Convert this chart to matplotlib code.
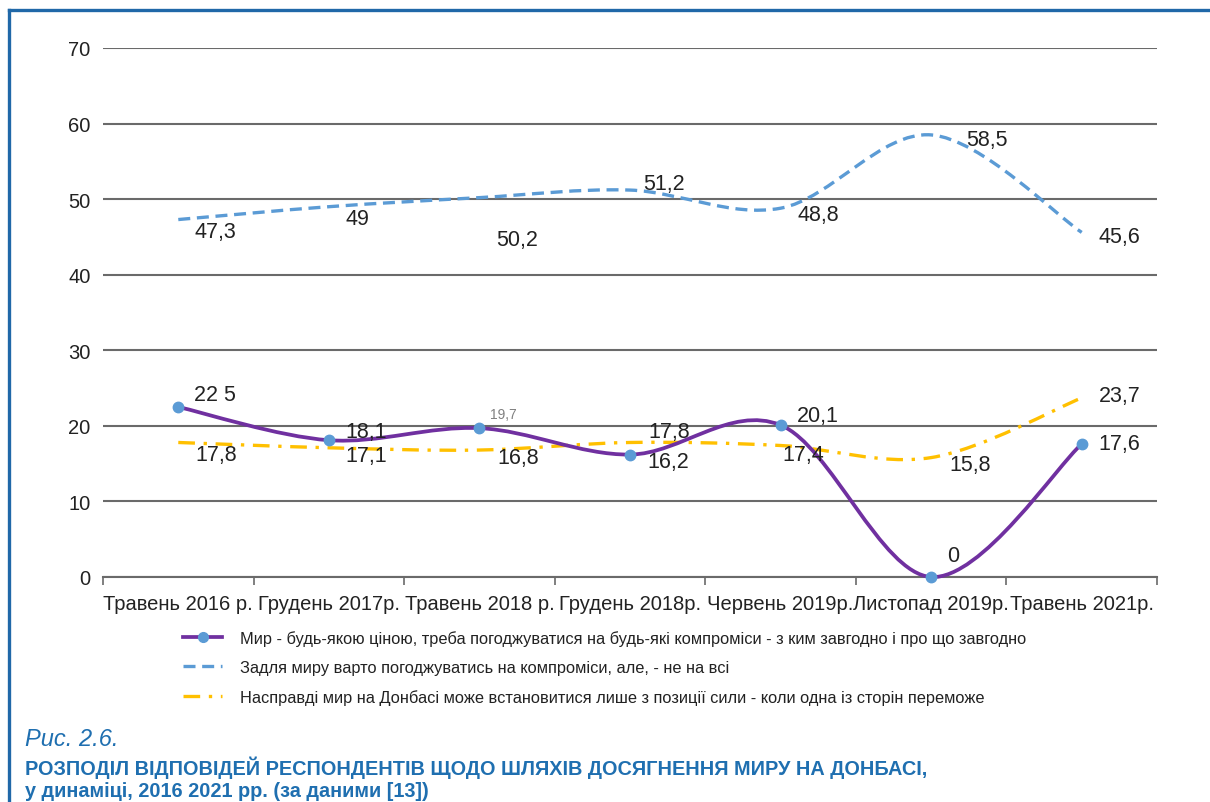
import numpy as np
import matplotlib
matplotlib.use("Agg")
import matplotlib.pyplot as plt
from matplotlib.path import Path
from matplotlib.patches import PathPatch
from matplotlib.lines import Line2D

# Data
categories = ["Травень 2016 р.", "Грудень 2017р.", "Травень 2018 р.", "Грудень 2018р.",
              "Червень 2019р.", "Листопад 2019р.", "Травень 2021р."]
any_price = [22.5, 18.1, 19.7, 16.2, 20.1, 0, 17.6]
not_all = [47.3, 49, 50.2, 51.2, 48.8, 58.5, 45.6]
by_force = [17.8, 17.1, 16.8, 17.8, 17.4, 15.8, 23.7]

any_price_labels = ["22 5", "18,1", "19,7", "16,2", "20,1", "0", "17,6"]
not_all_labels = ["47,3", "49", "50,2", "51,2", "48,8", "58,5", "45,6"]
by_force_labels = ["17,8", "17,1", "16,8", "17,8", "17,4", "15,8", "23,7"]

legend_texts = [
    "Мир - будь-якою ціною, треба погоджуватися на будь-які компроміси - з ким завгодно і про що завгодно",
    "Задля миру варто погоджуватись на компроміси, але, - не на всі",
    "Насправді мир на Донбасі може встановитися лише з позиції сили - коли одна із сторін переможе",
]

# label offsets in pixels (dx, dy)
any_price_off = [(16, 12), (17, 9), (11, 14), (17, -7), (16, 10), (16, 21), (17, 0)]
not_all_off = [(16, -12), (17, -12), (17, -42), (13, 7), (17, -6), (35, -5), (17, -4)]
by_force_off = [(17, -12), (17, -8), (18, -7), (18, 11), (2, -9), (18, -7), (17, 2)]

PURPLE = "#7030A0"
BLUE = "#5B9BD5"
GOLD = "#FFC000"
FRAME = "#2068a8"
CAPTION = "#1f6fb0"
GRID = "#6a6a6a"
NUM_FONT = ["Liberation Sans", "DejaVu Sans"]


def smooth_path(xs, ys):
    # Excel-like smoothed line: Catmull-Rom segments as cubic Bezier curves
    pts = np.column_stack([xs, ys]).astype(float)
    n = len(pts)
    verts = [pts[0]]
    codes = [Path.MOVETO]
    for i in range(n - 1):
        p0 = pts[max(i - 1, 0)]
        p1 = pts[i]
        p2 = pts[i + 1]
        p3 = pts[min(i + 2, n - 1)]
        verts += [p1 + (p2 - p0) / 6, p2 - (p3 - p1) / 6, p2]
        codes += [Path.CURVE4] * 3
    return Path(verts, codes)


fig = plt.figure(figsize=(12.1, 8.03), dpi=100)
ax = fig.add_axes([103 / 1210, 1 - 578 / 803, 1054 / 1210, 529 / 803])

x = np.arange(len(categories))
gold_ls = (0, (5, 2.6, 1, 2.6))
blue_ls = (0, (3.6, 2.0))

ax.add_patch(PathPatch(smooth_path(x, by_force), fill=False, edgecolor=GOLD, lw=2.4,
                       linestyle=gold_ls, zorder=3, clip_on=False))
ax.add_patch(PathPatch(smooth_path(x, not_all), fill=False, edgecolor=BLUE, lw=2.4,
                       linestyle=blue_ls, zorder=3, clip_on=False))
ax.add_patch(PathPatch(smooth_path(x, any_price), fill=False, edgecolor=PURPLE, lw=2.7,
                       zorder=4, clip_on=False))
ax.plot(x, any_price, "o", color=BLUE, ms=7.5, zorder=5, clip_on=False)

for vals, labs, offs in [(any_price, any_price_labels, any_price_off),
                         (not_all, not_all_labels, not_all_off),
                         (by_force, by_force_labels, by_force_off)]:
    for xi, v, lab, off in zip(x, vals, labs, offs):
        small = lab == "19,7"
        ax.annotate(lab, (xi, v), xytext=off, textcoords="offset pixels",
                    ha="left", va="center", fontsize=10 if small else 15.5,
                    color="#808080" if small else "#222222", family=NUM_FONT, zorder=6)

ax.set_xlim(-0.5, len(categories) - 0.5)
ax.set_ylim(0, 70)
ax.set_yticks(np.arange(0, 71, 10))
ax.yaxis.grid(True, color=GRID, lw=1.5)
ax.set_axisbelow(True)
for s in ["top", "right", "left"]:
    ax.spines[s].set_visible(False)
ax.spines["bottom"].set_color(GRID)
ax.spines["bottom"].set_linewidth(1.5)
ax.tick_params(axis="y", length=0, pad=9, labelsize=14.5)
for t in ax.get_yticklabels():
    t.set_family(NUM_FONT)
    t.set_color("#222222")

ax.set_xticks(x)
ax.set_xticklabels(categories, family=NUM_FONT, fontsize=14.5, color="#222222")
ax.set_xticks(np.arange(-0.5, len(categories)), minor=True)
ax.tick_params(axis="x", which="major", length=0, pad=12)
ax.tick_params(axis="x", which="minor", length=6, width=1.2, color=GRID, direction="out")

handles = [
    Line2D([], [], color=PURPLE, lw=2.7, marker="o", ms=7, mfc=BLUE, mec=BLUE),
    Line2D([], [], color=BLUE, lw=2.4, linestyle=blue_ls),
    Line2D([], [], color=GOLD, lw=2.4, linestyle=gold_ls),
]
fig.legend(handles, legend_texts, loc="upper left", bbox_to_anchor=(183 / 1210, 1 - 631 / 803),
           frameon=False, prop={"family": NUM_FONT, "size": 11.8}, handlelength=2.4,
           handletextpad=1.1, labelspacing=0.85, borderpad=0, borderaxespad=0, numpoints=1,
           labelcolor="#222222")

# frame
fig.add_artist(Line2D([9 / 1210, 1], [1 - 11 / 803] * 2, color=FRAME, lw=2.4, transform=fig.transFigure))
fig.add_artist(Line2D([9 / 1210] * 2, [1 - 11 / 803, 0], color=FRAME, lw=2.4, transform=fig.transFigure))

fig.text(25 / 1210, 1 - 740 / 803, "Рис. 2.6.", family=NUM_FONT, style="italic", fontsize=17,
         color=CAPTION, va="center")
fig.text(25 / 1210, 1 - 768 / 803, "РОЗПОДІЛ ВІДПОВІДЕЙ РЕСПОНДЕНТІВ ЩОДО ШЛЯХІВ ДОСЯГНЕННЯ МИРУ НА ДОНБАСІ,",
         family=NUM_FONT, weight="bold", fontsize=14.3, color=CAPTION, va="center")
fig.text(25 / 1210, 1 - 792 / 803, "у динаміці, 2016 2021 рр. (за даними [13])",
         family=NUM_FONT, weight="bold", fontsize=14.3, color=CAPTION, va="center")

fig.savefig("out.png", dpi=100)
